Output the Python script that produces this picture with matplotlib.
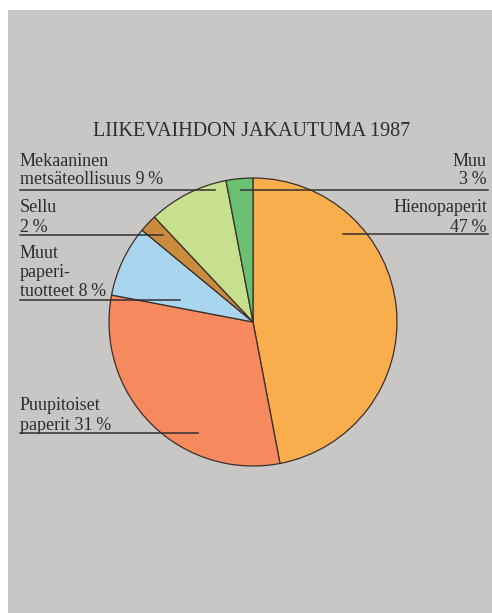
import matplotlib.pyplot as plt
from matplotlib.patches import Rectangle

# Data
segments = ['Hienopaperit', 'Puupitoiset paperit', 'Muut paperituotteet',
            'Sellu', 'Mekaaninen metsäteollisuus', 'Muu']
shares = [47, 31, 8, 2, 9, 3]
colors = ['#F9AE4E', '#F68A5E', '#A9D6EE', '#C98B3C', '#C7E08E', '#6CC072']

title = 'LIIKEVAIHDON JAKAUTUMA 1987'
label_lines = [
    ['Hienopaperit', '47\u2009%'],
    ['Puupitoiset', 'paperit 31\u2009%'],
    ['Muut', 'paperi-', 'tuotteet 8\u2009%'],
    ['Sellu', '2\u2009%'],
    ['Mekaaninen', 'metsäteollisuus 9\u2009%'],
    ['Muu', '3\u2009%'],
]

W, H = 492, 613
TXT = '#2e2c2c'
BG = '#C8C7C6'

plt.rcParams['font.family'] = ['Liberation Serif', 'DejaVu Serif']

fig = plt.figure(figsize=(W / 100, H / 100), dpi=100)
fig.patch.set_facecolor('white')
ax = fig.add_axes([0, 0, 1, 1])


def Y(y):
    # image pixel row -> data y
    return H - y


ax.add_patch(Rectangle((8, 0), W - 8, H - 10, facecolor=BG, edgecolor='none', zorder=0))

cx, cy, r = 253, 322, 144
ax.pie(shares, colors=colors, startangle=90, counterclock=False,
       center=(cx, Y(cy)), radius=r, frame=True,
       wedgeprops=dict(edgecolor='#3a302a', linewidth=0.9))

ax.text(252, Y(131), title, ha='center', va='center', fontsize=14.5, color=TXT)

# label blocks: (x, first line y, line step, underline y, line x0, line x1, align)
layout = [
    (487, 208, 19, 234, 343, 488, 'right'),
    (20, 405, 20, 433, 20, 198, 'left'),
    (20, 253, 19.5, 300, 20, 180, 'left'),
    (20, 208, 19, 235, 20, 163, 'left'),
    (20, 162, 18, 190, 20, 215, 'left'),
    (487, 162, 18, 190, 241, 488, 'right'),
]

for lines, (x, y0, step, ly, x0, x1, ha) in zip(label_lines, layout):
    for i, s in enumerate(lines):
        ax.text(x, Y(y0 + i * step), s, ha=ha, va='center', fontsize=13, color=TXT)
    ax.plot([x0, x1], [Y(ly), Y(ly)], color='#333033', linewidth=1.1, zorder=5)

ax.set_xlim(0, W)
ax.set_ylim(0, H)
ax.set_aspect('equal')
ax.axis('off')

fig.savefig('out.png', dpi=100, facecolor=fig.get_facecolor())
